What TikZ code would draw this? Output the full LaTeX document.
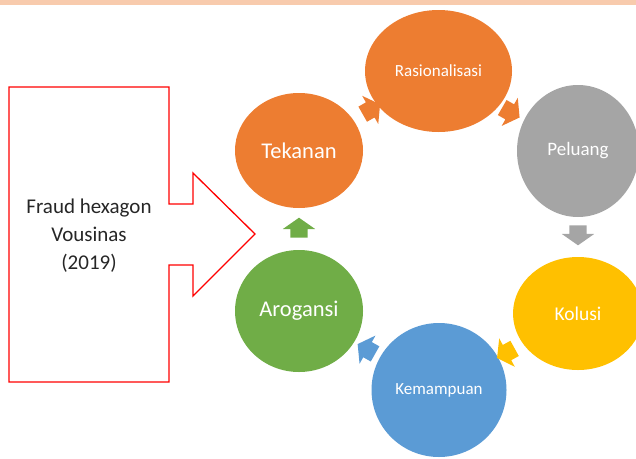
\documentclass[tikz,border=0pt]{standalone}
\usepackage{fontspec}
\setmainfont{Carlito}
\usetikzlibrary{calc,shapes.geometric,shapes.arrows}
\definecolor{peach}{HTML}{F8CBAD}
\definecolor{orangeA}{HTML}{ED7D31}
\definecolor{grayA}{HTML}{A5A5A5}
\definecolor{yellowA}{HTML}{FFC000}
\definecolor{blueA}{HTML}{5B9BD5}
\definecolor{greenA}{HTML}{70AD47}

\begin{document}
\begin{tikzpicture}[x=1pt,y=-1pt,
    bubble/.style={ellipse,inner sep=0pt,text=white},
    cyc/.style={single arrow,draw=none,inner xsep=0pt,inner ysep=8.5pt,minimum height=20pt,
      single arrow head extend=7.5pt,single arrow tip angle=110,sloped,allow upside down}]
        \useasboundingbox (0,0) rectangle (636,458);
        \fill[peach](0,0) rectangle (636,5);
        \draw[red,line width=1.3pt](9,87)--(169,87)--(169,204)--(193,204)--(193,173)--(255,234)
            --(193,296)--(193,265)--(169,265)--(169,382)--(9,382)--cycle;
        \node[align=center,text=black!85,font=\fontsize{21}{28}\selectfont](fraud)at(89,236){Fraud hexagon\\Vousinas\\(2019)};
        \node[bubble,fill=orangeA,minimum width=147pt,minimum height=122pt,font=\fontsize{17}{20}\selectfont](ras)at(438.5,71){Rasionalisasi};
        \node[bubble,fill=orangeA,minimum width=128pt,minimum height=115pt,font=\fontsize{22.5}{26}\selectfont](tek)at(299,150.5){Tekanan};
        \node[bubble,fill=grayA,minimum width=122pt,minimum height=132pt,font=\fontsize{19}{22}\selectfont](pel)at(578,151){Peluang};
        \node[bubble,fill=yellowA,minimum width=130pt,minimum height=113pt,font=\fontsize{19.5}{22}\selectfont](kol)at(578,313.5){Kolusi};
        \node[bubble,fill=blueA,minimum width=135pt,minimum height=134pt,font=\fontsize{17}{20}\selectfont](kem)at(439,390){Kemampuan};
        \node[bubble,fill=greenA,minimum width=128pt,minimum height=122pt,font=\fontsize{22.5}{26}\selectfont](aro)at(299,311){Arogansi};
        \foreach \a/\b/\c in {tek/ras/orangeA,ras/pel/orangeA,pel/kol/grayA,kol/kem/yellowA,kem/aro/blueA,aro/tek/greenA}
            \path(\a.center)--node[cyc,fill=\c]{}(\b.center);
    \end{tikzpicture}
\end{document}
